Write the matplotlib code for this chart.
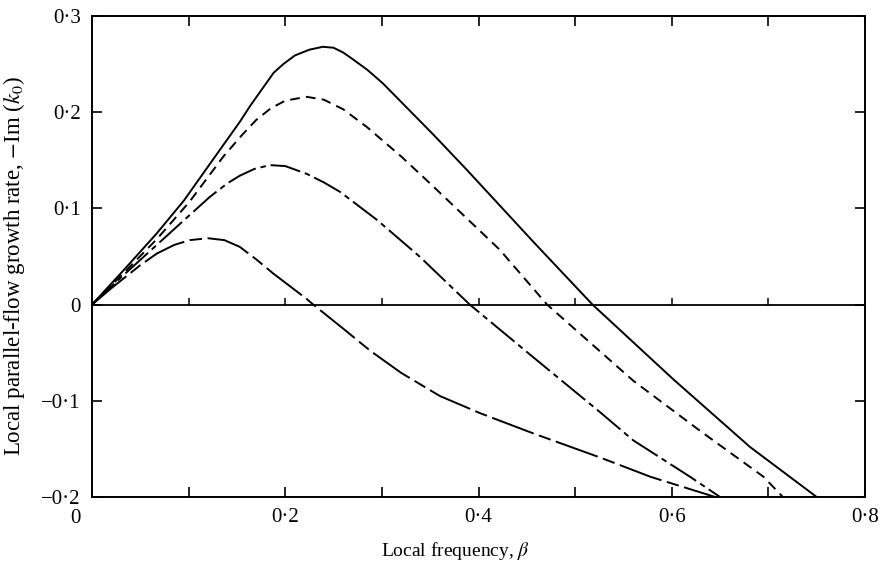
import matplotlib
matplotlib.use("Agg")
import matplotlib.pyplot as plt

plt.rcParams['font.family'] = ['Liberation Serif', 'DejaVu Serif']
plt.rcParams['mathtext.fontset'] = 'stix'
plt.rcParams['lines.scale_dashes'] = False

# ---- data ----
solid_x = [0, 0.033, 0.067, 0.095, 0.119, 0.153, 0.164, 0.188, 0.198, 0.210, 0.225, 0.239,
           0.250, 0.260, 0.270, 0.285, 0.301, 0.353, 0.388, 0.457, 0.518, 0.602, 0.681, 0.750]
solid_y = [0, 0.036, 0.074, 0.108, 0.142, 0.190, 0.207, 0.241, 0.250, 0.259, 0.265, 0.268,
           0.267, 0.262, 0.255, 0.244, 0.230, 0.177, 0.140, 0.065, 0.000, -0.078, -0.148, -0.200]

short_x = [0, 0.033, 0.067, 0.101, 0.136, 0.155, 0.170, 0.185, 0.200, 0.222, 0.240, 0.260,
           0.284, 0.320, 0.353, 0.422, 0.471, 0.560, 0.629, 0.695, 0.715]
short_y = [0, 0.033, 0.068, 0.107, 0.154, 0.176, 0.192, 0.204, 0.212, 0.216, 0.213, 0.203,
           0.185, 0.154, 0.123, 0.057, 0.000, -0.079, -0.131, -0.179, -0.200]

long_x = [0, 0.033, 0.067, 0.101, 0.122, 0.140, 0.153, 0.168, 0.184, 0.200, 0.222, 0.240,
          0.257, 0.295, 0.339, 0.391, 0.457, 0.526, 0.560, 0.619, 0.650]
long_y = [0, 0.031, 0.062, 0.093, 0.112, 0.126, 0.134, 0.141, 0.145, 0.144, 0.136, 0.127,
          0.117, 0.088, 0.050, 0.000, -0.055, -0.112, -0.141, -0.179, -0.200]

dd_x = [0, 0.020, 0.0325, 0.050, 0.067, 0.085, 0.101, 0.120, 0.137, 0.153, 0.170, 0.188,
        0.205, 0.222, 0.229, 0.260, 0.288, 0.320, 0.360, 0.402, 0.457, 0.526, 0.578, 0.645]
dd_y = [0, 0.017, 0.027, 0.041, 0.053, 0.062, 0.067, 0.069, 0.067, 0.060, 0.047, 0.032,
        0.019, 0.006, 0.000, -0.025, -0.048, -0.071, -0.095, -0.113, -0.134, -0.159, -0.179, -0.200]

x_ticks = [0.1, 0.2, 0.3, 0.4, 0.5, 0.6, 0.7, 0.8]
x_ticklabels = ['', '0·2', '', '0·4', '', '0·6', '', '0·8']
y_ticks = [-0.2, -0.1, 0.0, 0.1, 0.2, 0.3]
y_ticklabels = ['−0·2', '−0·1', '0', '0·1', '0·2', '0·3']
zero_ticks = [0.1, 0.2, 0.3, 0.4, 0.5, 0.6, 0.7]

fig = plt.figure(figsize=(8.84, 5.63), dpi=100)
ax = fig.add_axes([92/884, 1-497/563, (865-92)/884, (497-16)/563])

lw = 1.4
ax.plot(solid_x, solid_y, color='black', lw=lw, linestyle='-')
ax.plot(short_x, short_y, color='black', lw=lw, linestyle=(0, (7, 4.5)))
ax.plot(long_x, long_y, color='black', lw=lw, linestyle=(0, (22, 3.5, 4, 3.5)))
ax.plot(dd_x, dd_y, color='black', lw=lw, linestyle=(0, (32, 4, 9, 4)))

ax.axhline(0, color='black', lw=1.3)
ax.plot(zero_ticks, [0]*len(zero_ticks), linestyle='none', marker=2, ms=5,
        mew=1.1, color='black')

ax.set_xlim(0, 0.8)
ax.set_ylim(-0.2, 0.3)
ax.set_xticks(x_ticks)
ax.set_xticklabels(x_ticklabels)
ax.set_yticks(y_ticks)
ax.set_yticklabels(y_ticklabels)
ax.tick_params(direction='in', length=7, width=1.2, labelsize=15,
               top=True, right=True, pad=8)
for s in ax.spines.values():
    s.set_linewidth(1.4)

ax.annotate('0', xy=(0, 0), xycoords='axes fraction', xytext=(-17, -12),
            textcoords='offset pixels', ha='center', va='top', fontsize=15)

ax.set_xlabel('Local frequency, $\\beta$', fontsize=14)
ax.xaxis.set_label_coords((455-92)/773, -0.09)
ax.set_ylabel('Local parallel-flow growth rate, $-$Im ($k_0$)', fontsize=16.5)
ax.yaxis.set_label_coords((27-92)/773, 0.48)

fig.savefig('out.png', dpi=100, facecolor='white')
